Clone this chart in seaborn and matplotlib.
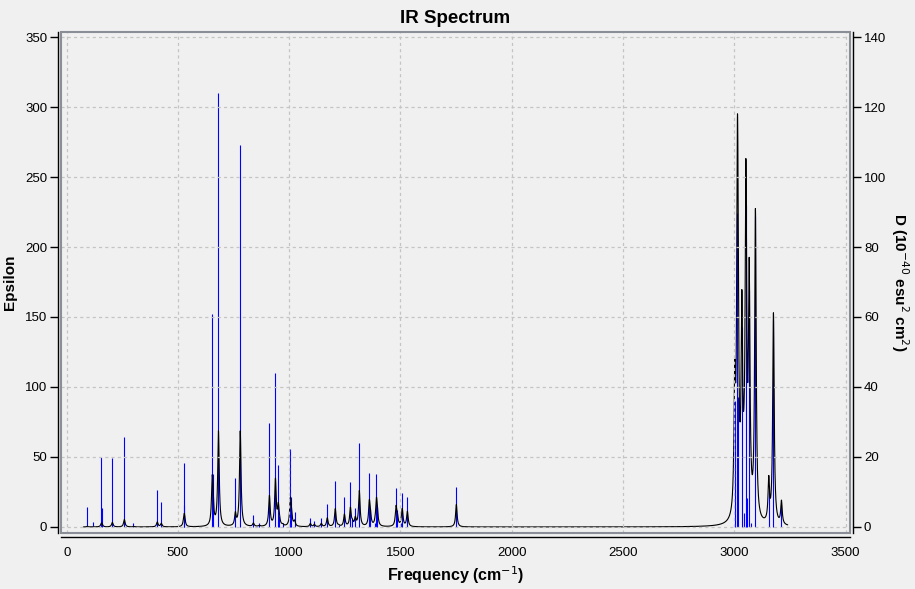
import numpy as np
import pandas as pd
import matplotlib
matplotlib.use("Agg")
import matplotlib.pyplot as plt
import seaborn as sns
from matplotlib.ticker import MultipleLocator
from matplotlib.patches import Rectangle

# Harmonic frequencies (cm-1) and dipole strengths D (10^-40 esu^2 cm^2)
freq = [93, 120, 156, 160, 205, 259, 300, 376, 407, 425, 526, 529, 654, 658, 682,
        758, 780, 839, 866, 911, 938, 951, 956, 971, 1005, 1010, 1024, 1095, 1113,
        1144, 1171, 1207, 1222, 1248, 1275, 1284, 1297, 1315, 1360, 1365, 1386,
        1392, 1396, 1480, 1486, 1504, 1508, 1531, 1751,
        3002, 3014, 3017, 3034, 3043, 3052, 3055, 3067, 3074, 3095, 3155, 3176, 3212]
dipole = [5.8, 1.4, 20.1, 5.5, 19.8, 25.8, 1.1, 0.4, 10.6, 7.2, 6.4, 18.4, 60.8, 15.2, 124.0,
          14.0, 109.2, 3.5, 1.0, 29.6, 44.0, 17.6, 3.0, 1.1, 22.4, 8.6, 4.4, 2.6, 1.8,
          2.5, 6.6, 13.2, 0.6, 8.6, 12.8, 2.4, 5.4, 24.0, 15.4, 5.2, 1.2,
          15.2, 5.8, 11.2, 4.8, 1.2, 9.7, 8.7, 11.4,
          36.0, 89.6, 37.0, 57.2, 4.0, 92.0, 8.4, 67.6, 1.2, 88.8, 11.6, 59.2, 6.4]

x_ticks = [0, 500, 1000, 1500, 2000, 2500, 3000, 3500]
eps_ticks = [0, 50, 100, 150, 200, 250, 300, 350]
d_ticks = [0, 20, 40, 60, 80, 100, 120, 140]

# Lorentzian-broadened epsilon spectrum built from the sticks (intensity ~ D * nu)
half_width = 4.0
scale = 8e-4
grid = np.arange(75, 3240.01, 0.5)
f_arr = np.array(freq)[:, None]
d_arr = np.array(dipole)[:, None]
eps = (scale * f_arr * d_arr / (1 + ((grid[None, :] - f_arr) / half_width) ** 2)).sum(axis=0)
spec = pd.DataFrame({"freq": grid, "eps": eps})
sticks = pd.DataFrame({"freq": freq, "D": dipole})

sns.set_theme(style="white")
plt.rcParams["font.family"] = ["Liberation Sans", "DejaVu Sans"]
plt.rcParams["text.color"] = "black"
plt.rcParams["axes.labelcolor"] = "black"
plt.rcParams["axes.titlecolor"] = "black"

W, H = 915, 589
fig = plt.figure(figsize=(W / 100, H / 100), dpi=100, facecolor="#F0F0F0")
left, right, top, bottom = 61, 850, 31.7, 533
ax = fig.add_axes([left / W, 1 - bottom / H, (right - left) / W, (bottom - top) / H])
ax2 = ax.twinx()

# sticks axis underneath, curve axis on top
ax2.set_zorder(1)
ax.set_zorder(2)
ax.patch.set_visible(False)
ax2.patch.set_facecolor("#FFFFF7")

ax2.vlines(sticks["freq"], 0, sticks["D"], color="#0000FF", lw=0.8)
sns.lineplot(data=spec, x="freq", y="eps", ax=ax, color="black", lw=0.8,
             estimator=None, sort=False)

ax.set_xlim(-25.6, 3520)
ax.set_ylim(-4.3, 353.8)
ax2.set_ylim(-4.3 / 2.5, 353.8 / 2.5)

ax.set_xticks(x_ticks)
ax.set_yticks(eps_ticks)
ax2.set_yticks(d_ticks)
ax.xaxis.set_minor_locator(MultipleLocator(50))

ax.grid(True, which="major", ls=(0, (2.5, 2.5)), color="#C4C4C4", lw=0.9)
ax.set_axisbelow(False)

for s in ["top", "right"]:
    ax.spines[s].set_visible(False)
for s in ["top", "left", "bottom"]:
    ax2.spines[s].set_visible(False)
ax.spines["left"].set_position(("outward", 2))
ax.spines["bottom"].set_position(("outward", 3))
ax2.spines["right"].set_position(("outward", 2))
for sp in [ax.spines["left"], ax.spines["bottom"], ax2.spines["right"]]:
    sp.set_color("black")
    sp.set_linewidth(1.0)

frame = Rectangle((0, 0), 1, 1, transform=ax.transAxes, fill=False,
                  edgecolor="#8A8E96", lw=1.5, clip_on=False, zorder=5)
ax.add_patch(frame)

ax.tick_params(axis="both", which="major", direction="out", length=6, width=1,
               color="black", labelsize=9.5, pad=2, labelcolor="black")
ax.tick_params(axis="x", which="minor", direction="out", length=3, width=1, color="black")
ax.tick_params(axis="x", which="major", length=5)
ax2.tick_params(axis="y", direction="out", length=6, width=1, color="black",
                labelsize=9.5, pad=2, labelcolor="black")

ax.set_xlabel("Frequency (cm$^{-1}$)", fontsize=11.5, fontweight="bold", labelpad=4,
              color="black")
ax.set_ylabel("Epsilon", fontsize=11, fontweight="bold", labelpad=6, color="black")
ax2.set_ylabel("D (10$^{-40}$ esu$^{2}$ cm$^{2}$)", fontsize=11, fontweight="bold",
               rotation=270, labelpad=18, color="black")
ax.set_title("IR Spectrum", fontsize=13.5, fontweight="bold", pad=6, color="black")

fig.savefig("out.png", dpi=100, facecolor=fig.get_facecolor())
